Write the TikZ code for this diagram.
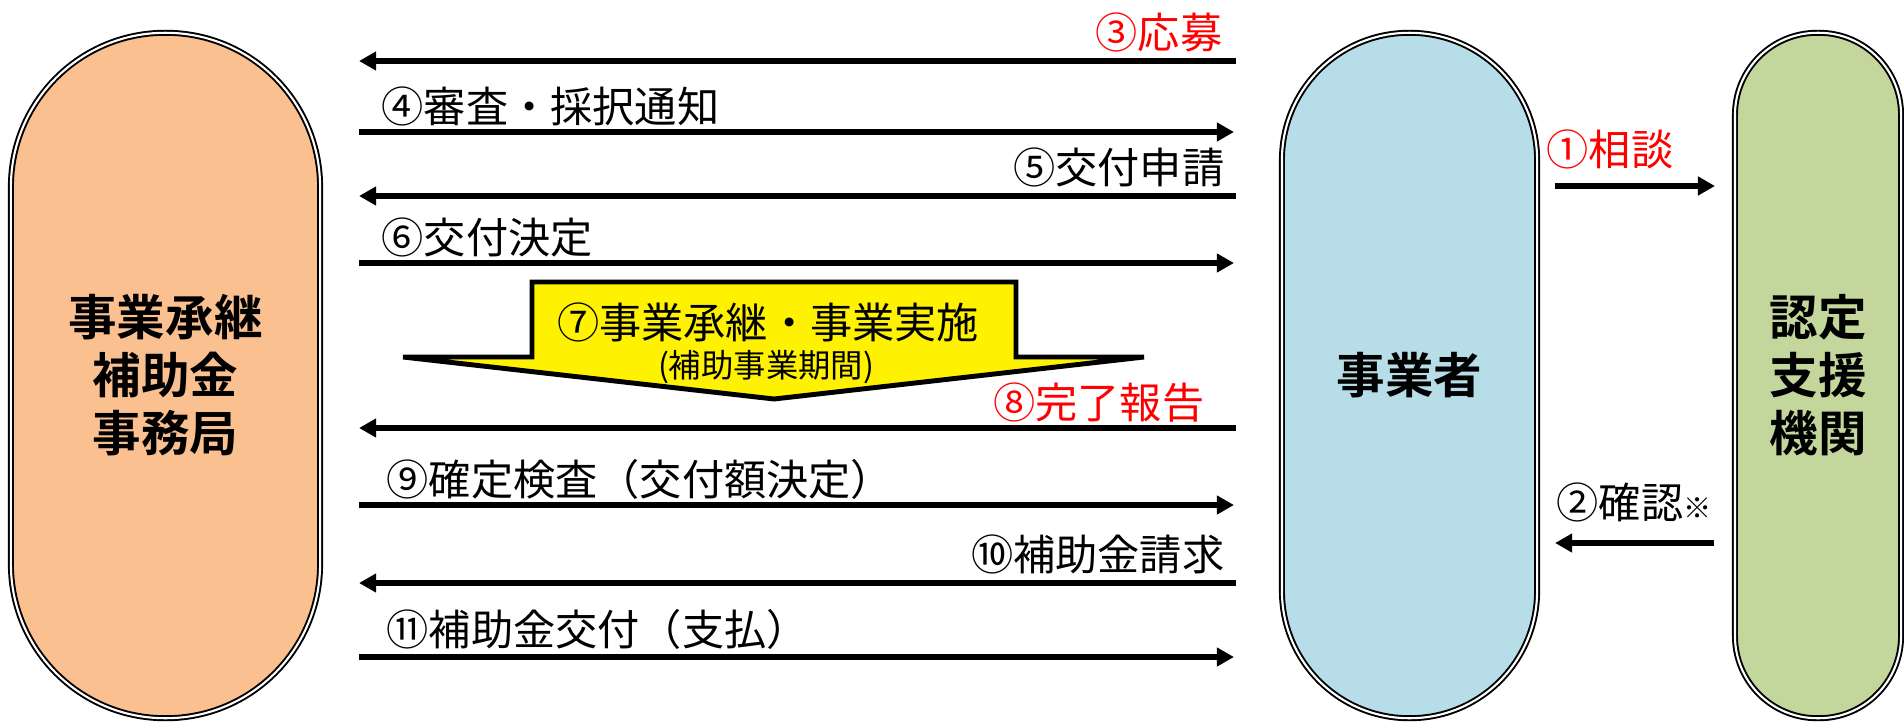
\documentclass[tikz,border=0pt]{standalone}
\usepackage{fontspec}
\setmainfont{Noto Sans CJK JP}[BoldFont={Noto Sans CJK JP Bold}]
\usetikzlibrary{arrows.meta}
\definecolor{peach}{HTML}{FAC090}
\definecolor{aqua}{HTML}{B7DEE8}
\definecolor{leaf}{HTML}{C3D69B}
\begin{document}
\begin{tikzpicture}[x=0.01cm, y=-0.01cm,
  main node/.style={rectangle, draw, line width=0.55pt, double=white, double distance=0.6pt, minimum height=6.85cm, align=center, font=\fontsize{13.8}{16.5}\selectfont\bfseries},
  flow/.style={line width=1.7pt, -{Triangle[length=0.17cm, width=0.18cm]}},
  lab/.style={font=\fontsize{12}{14}\selectfont, inner sep=0pt},
  red lab/.style={lab, text=red}]
\useasboundingbox (0,0) rectangle (1904,721);
\begin{scope}
\node[main node, fill=peach, minimum width=3.09cm, rounded corners=1.54cm] (office) at (165.5,375.5) {事業承継\\補助金\\事務局};
\node[main node, fill=aqua, minimum width=2.55cm, rounded corners=1.27cm] (firm) at (1409.5,375.5) {事業者};
\node[main node, fill=leaf, minimum width=1.66cm, rounded corners=0.82cm] (agency) at (1818,375.5) {認定\\支援\\機関};
\end{scope}
% period of the project
\draw[fill=yellow, line width=1.4pt, line join=miter] (532,282) -- (1016,282) -- (1016,357) -- (1144,357) -- (774,399) -- (403,357) -- (532,357) -- cycle;
\node[lab] (t7) at (768,322) {⑦事業承継・事業実施};
\node[lab, font=\fontsize{9.2}{11}\selectfont] (t7b) at (766,367) {(補助事業期間)};
\begin{scope}[every node/.style={lab}]
\node[red lab, anchor=base west] (t1) at (1546,165) {①相談};
\node[anchor=base west] (t2) at (1556,518) {②確認{\fontsize{8}{10}\selectfont ※}};
\node[red lab, anchor=base east] (t3) at (1223,48) {③応募};
\node[anchor=base west] (t4) at (381,122) {④審査・採択通知};
\node[anchor=base east] (t5) at (1225,183) {⑤交付申請};
\node[anchor=base west] (t6) at (381,253) {⑥交付決定};
\node[red lab, anchor=base east] (t8) at (1205,418) {⑧完了報告};
\node[anchor=base west] (t9) at (386,495) {⑨確定検査（交付額決定）};
\node[anchor=base east] (t10) at (1225,570) {⑩補助金請求};
\node[anchor=base west] (t11) at (386,645) {⑪補助金交付（支払）};
\end{scope}
\begin{scope}[every path/.style={flow}]
\draw[shorten >=0.19cm, shorten <=0.17cm] (firm.east |- 0,186) -- (agency.west |- 0,186);
\draw[shorten >=0.17cm, shorten <=0.20cm] (agency.west |- 0,543) -- (firm.east |- 0,543);
\draw[shorten >=0.38cm, shorten <=0.45cm] (firm.west |- 0,61) -- (office.east |- 0,61);
\draw[shorten <=0.38cm, shorten >=0.47cm] (office.east |- 0,132) -- (firm.west |- 0,132);
\draw[shorten >=0.38cm, shorten <=0.45cm] (firm.west |- 0,196) -- (office.east |- 0,196);
\draw[shorten <=0.38cm, shorten >=0.47cm] (office.east |- 0,263) -- (firm.west |- 0,263);
\draw[shorten >=0.38cm, shorten <=0.45cm] (firm.west |- 0,428) -- (office.east |- 0,428);
\draw[shorten <=0.38cm, shorten >=0.47cm] (office.east |- 0,505) -- (firm.west |- 0,505);
\draw[shorten >=0.38cm, shorten <=0.45cm] (firm.west |- 0,583) -- (office.east |- 0,583);
\draw[shorten <=0.38cm, shorten >=0.47cm] (office.east |- 0,657) -- (firm.west |- 0,657);
\end{scope}
\end{tikzpicture}
\end{document}
